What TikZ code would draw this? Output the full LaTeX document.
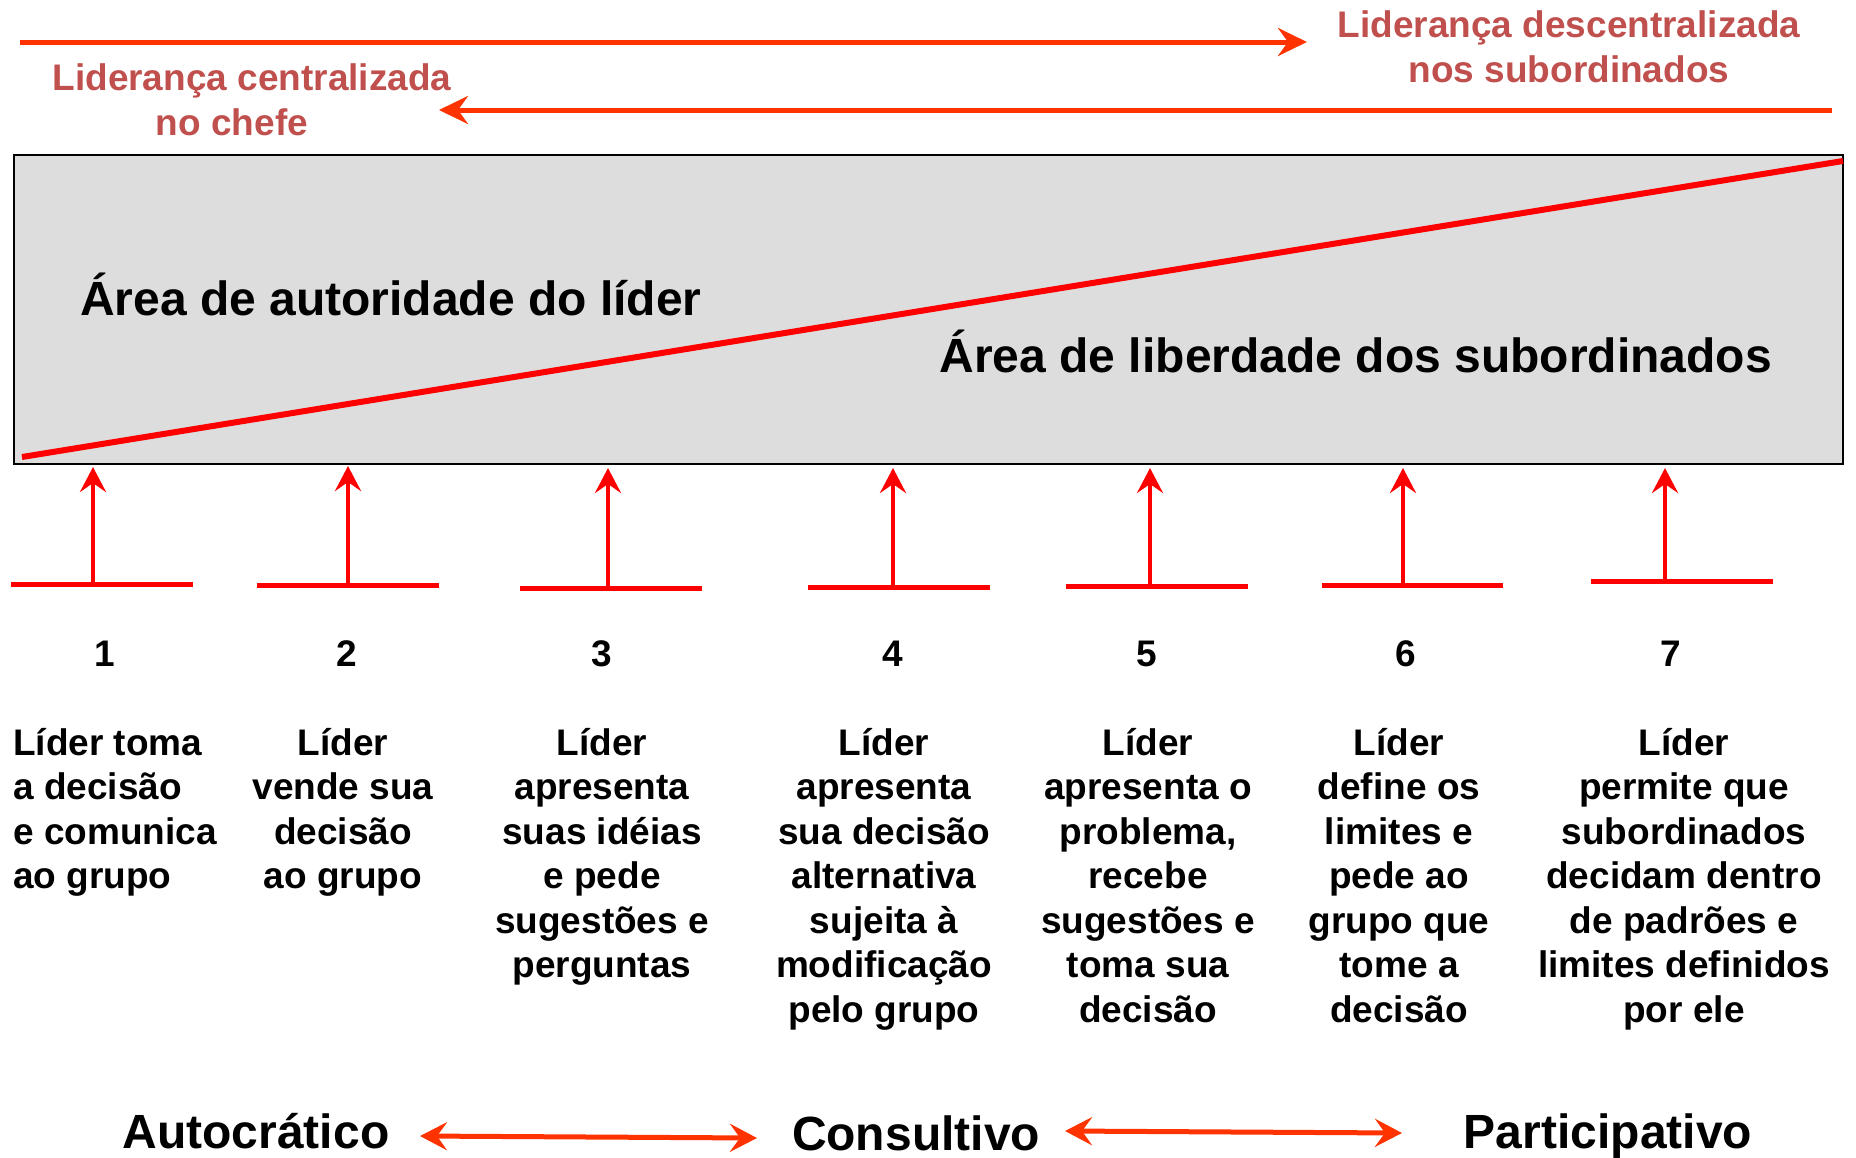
\documentclass[tikz,border=0pt]{standalone}
\usepackage{fontspec}
\setmainfont{Liberation Sans}
\usepackage{xcolor}
\usepackage{tikz}
\usetikzlibrary{positioning, arrows.meta}
\definecolor{pure}{RGB}{255, 0, 0}
\definecolor{flame}{RGB}{255, 51, 0}
\definecolor{rose}{RGB}{192, 80, 77}
\definecolor{area}{RGB}{221, 221, 221}

\begin{document}
\begin{tikzpicture}[x=1pt, y=-1pt,
        toptext/.style={text=rose, font=\fontsize{37}{44.5}\selectfont\bfseries, align=center, inner sep=0pt},
        areatext/.style={font=\fontsize{48}{56}\selectfont\bfseries, inner sep=0pt},
        steptext/.style={font=\fontsize{37}{44.5}\selectfont\bfseries, align=center, inner sep=0pt},
        stylename/.style={font=\fontsize{48}{56}\selectfont\bfseries, inner sep=0pt},
        flow/.style={flame, line width=5pt, -{Stealth[length=29pt, width=28pt, inset=10pt]}},
        bothway/.style={flame, line width=5pt, {Stealth[length=27pt, width=28pt, inset=10pt]}-{Stealth[length=27pt, width=28pt, inset=10pt]}},
        bar/.style={pure, line width=5pt},
        push/.style={pure, line width=4pt, -{Stealth[length=25pt, width=26pt, inset=9pt]}}
    ]
        \useasboundingbox (0,0) rectangle (1856,1157);

        % direction of leadership (base = last line)
        \node (descentral) [toptext, anchor=base] at (1569,82) {Liderança descentralizada\\nos subordinados};
        \node (central) [toptext, anchor=base] at (252,135) {Liderança centralizada\\no chefe\hspace*{40pt}};
        \coordinate (toleft) at (20,42);
        \coordinate (toright) at (1307,42);
        \coordinate (backright) at (1832,110);
        \coordinate (backleft) at (439,110);
        \draw[flow] (toleft) -- (toright);
        \draw[flow] (backright) -- (backleft);

        % the two areas
        \draw[fill=area, line width=2.5pt] (14,155) rectangle (1843,464);
        \coordinate (low) at (22,457);
        \coordinate (high) at (1843,161);
        \draw[pure, line width=6pt] (low) -- (high);
        \node (autoridade) [areatext, anchor=base west] at (80,315) {Área de autoridade do líder};
        \node (liberdade) [areatext, anchor=base east] at (1772,372) {Área de liberdade dos subordinados};

        % the seven steps
        \coordinate (base1) at (93,584);   \coordinate (tip1) at (93,467);
        \coordinate (base2) at (348,585);  \coordinate (tip2) at (348,466);
        \coordinate (base3) at (608,588);  \coordinate (tip3) at (608,468);
        \coordinate (base4) at (893,587);  \coordinate (tip4) at (893,468);
        \coordinate (base5) at (1150,586); \coordinate (tip5) at (1150,468);
        \coordinate (base6) at (1403,585); \coordinate (tip6) at (1403,468);
        \coordinate (base7) at (1665,581); \coordinate (tip7) at (1665,468);

        \draw[bar] (11,584) -- (193,584);
        \draw[bar] (257,585) -- (439,585);
        \draw[bar] (520,588) -- (702,588);
        \draw[bar] (808,587) -- (990,587);
        \draw[bar] (1066,586) -- (1248,586);
        \draw[bar] (1322,585) -- (1503,585);
        \draw[bar] (1591,581) -- (1773,581);

        \draw[push] (base1) -- (tip1);
        \draw[push] (base2) -- (tip2);
        \draw[push] (base3) -- (tip3);
        \draw[push] (base4) -- (tip4);
        \draw[push] (base5) -- (tip5);
        \draw[push] (base6) -- (tip6);
        \draw[push] (base7) -- (tip7);

        \node (num1) [steptext, anchor=base] at (105,666) {1};
        \node (num2) [steptext, anchor=base] at (347,666) {2};
        \node (num3) [steptext, anchor=base] at (602,666) {3};
        \node (num4) [steptext, anchor=base] at (893,666) {4};
        \node (num5) [steptext, anchor=base] at (1147,666) {5};
        \node (num6) [steptext, anchor=base] at (1406,666) {6};
        \node (num7) [steptext, anchor=base] at (1671,666) {7};

        \node (step1) [steptext, align=left, anchor=base west] at (13,888.5) {Líder toma\\a decisão\\e comunica\\ao grupo};
        \node (step2) [steptext, anchor=base] at (343,888.5) {Líder\\vende sua\\decisão\\ao grupo};
        \node (step3) [steptext, anchor=base] at (602,977.5) {Líder\\apresenta\\suas idéias\\e pede\\sugestões e\\perguntas};
        \node (step4) [steptext, anchor=base] at (884,1022) {Líder\\apresenta\\sua decisão\\alternativa\\sujeita à\\modificação\\pelo grupo};
        \node (step5) [steptext, anchor=base] at (1148,1022) {Líder\\apresenta o\\problema,\\recebe\\sugestões e\\toma sua\\decisão};
        \node (step6) [steptext, anchor=base] at (1399,1022) {Líder\\define os\\limites e\\pede ao\\grupo que\\tome a\\decisão};
        \node (step7) [steptext, anchor=base] at (1684,1022) {Líder\\permite que\\subordinados\\decidam dentro\\de padrões e\\limites definidos\\por ele};

        % styles of leadership
        \node (auto) [stylename, anchor=base] at (256,1148) {Autocrático};
        \node (consult) [stylename, anchor=base] at (916,1150) {Consultivo};
        \node (partic) [stylename, anchor=base] at (1608,1148) {Participativo};
        \coordinate (autoR) at (420,1136);
        \coordinate (consultL) at (757,1138);
        \coordinate (consultR) at (1065,1131);
        \coordinate (particL) at (1402,1133);
        \draw[bothway] (autoR) -- (consultL);
        \draw[bothway] (consultR) -- (particL);
    \end{tikzpicture}
\end{document}
